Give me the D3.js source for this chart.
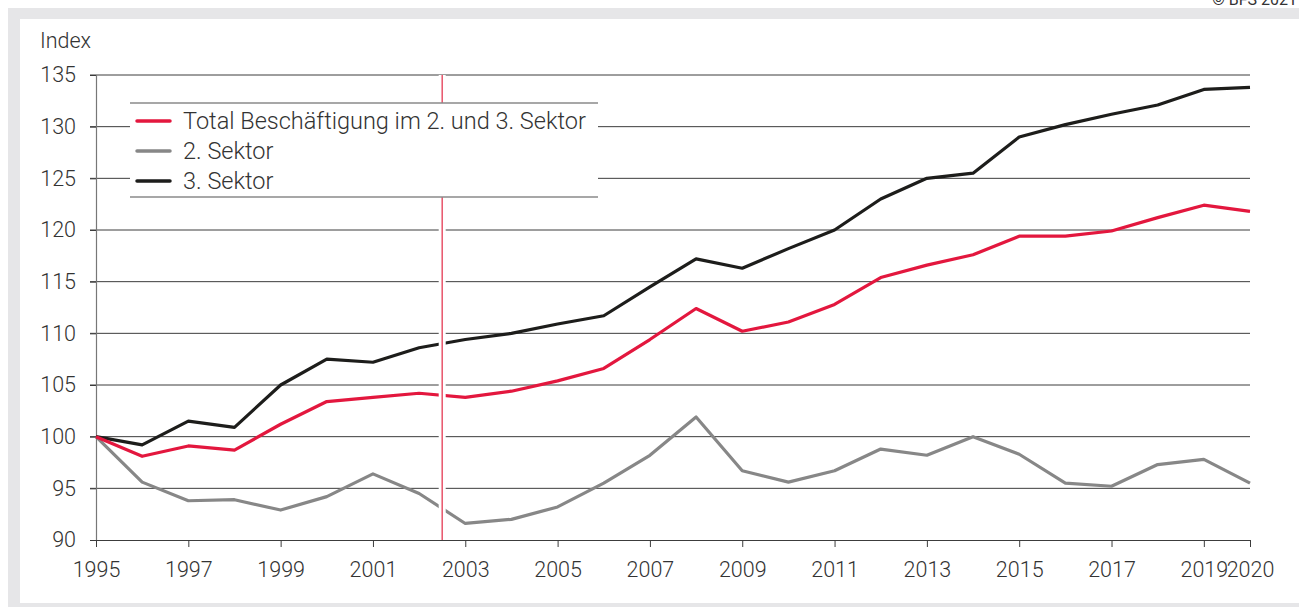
<!DOCTYPE html>
<html>
<head>
<meta charset="utf-8">
<script src="https://cdn.jsdelivr.net/npm/d3@7"></script>
<style>
  html, body { margin: 0; padding: 0; background: #fff; }
  svg { display: block; }
</style>
</head>
<body>
<div id="chart"></div>
<script>
// Data (index, 1995 = 100)
const years = d3.range(1995, 2021)
const total = [100, 98.1, 99.1, 98.7, 101.2, 103.4, 103.8, 104.2, 103.8, 104.4, 105.4, 106.6,
  109.4, 112.4, 110.2, 111.1, 112.8, 115.4, 116.6, 117.6, 119.4, 119.4, 119.9, 121.2, 122.4, 121.8]
const sektor2 = [100, 95.6, 93.8, 93.9, 92.9, 94.2, 96.4, 94.5, 91.6, 92.0, 93.2, 95.5,
  98.2, 101.9, 96.7, 95.6, 96.7, 98.8, 98.2, 100.0, 98.3, 95.5, 95.2, 97.3, 97.8, 95.5]
const sektor3 = [100, 99.2, 101.5, 100.9, 105.0, 107.5, 107.2, 108.6, 109.4, 110.0, 110.9, 111.7,
  114.5, 117.2, 116.3, 118.2, 120.0, 123.0, 125.0, 125.5, 129.0, 130.2, 131.2, 132.1, 133.6, 133.8]
const xTicks = [1995, 1997, 1999, 2001, 2003, 2005, 2007, 2009, 2011, 2013, 2015, 2017, 2019, 2020]
const yTicks = [90, 95, 100, 105, 110, 115, 120, 125, 130, 135]
const markerYear = 2002.5

const series = [
  { name: 'Total Beschäftigung im 2. und 3. Sektor', values: total, color: '#e3173e' },
  { name: '2. Sektor', values: sektor2, color: '#878787' },
  { name: '3. Sektor', values: sektor3, color: '#1d1d1b' },
]

const W = 1299, H = 607
const FONT = 'Roboto, "Liberation Sans", sans-serif'
const TXT = '#333333'

const svg = d3.select('#chart').append('svg')
  .attr('width', W).attr('height', H)

// Frame
svg.append('rect').attr('x', 8).attr('y', 8).attr('width', W).attr('height', H)
  .attr('fill', '#e6e6e8')
svg.append('rect').attr('x', 20).attr('y', 19).attr('width', W).attr('height', 603 - 19)
  .attr('fill', '#ffffff')

// Source note (clipped at top edge, as in the original)
svg.append('text')
  .attr('x', 1297).attr('y', 5)
  .attr('text-anchor', 'end')
  .attr('fill', TXT).attr('font-size', '16px')
  .attr('font-family', FONT)
  .text('© BFS 2021')

const x = d3.scaleLinear().domain([1995, 2020]).range([96, 1250])
const y = d3.scaleLinear().domain([90, 135]).range([540, 75])

// Gridlines
svg.append('g').attr('class', 'grid-y')
  .selectAll('line')
  .data(yTicks.filter(d => d > 90))
  .join('line')
  .attr('x1', 90).attr('x2', x(2020))
  .attr('y1', d => y(d)).attr('y2', d => y(d))
  .attr('stroke', '#3c3c3c').attr('stroke-width', 1)

// Y axis
svg.append('g')
  .attr('class', 'axis-y')
  .attr('transform', `translate(${x(1995)},0)`)
  .call(d3.axisLeft(y).tickValues(yTicks).tickSize(6).tickPadding(14))
  .call(g => {
    g.select('.domain').attr('stroke', '#777').attr('stroke-width', 1.2)
    g.selectAll('.tick line').attr('stroke', '#3c3c3c')
    g.selectAll('.tick text')
      .attr('fill', TXT).attr('font-size', '21.5px')
      .attr('font-family', FONT).attr('font-weight', 300)
  })

// X axis
svg.append('g')
  .attr('class', 'axis-x')
  .attr('transform', `translate(0,${y(90)})`)
  .call(d3.axisBottom(x).tickValues(xTicks).tickFormat(d3.format('d')).tickSize(7).tickPadding(15).tickSizeOuter(0))
  .call(g => {
    g.select('.domain').attr('stroke', '#3c3c3c')
    g.selectAll('.tick line').attr('stroke', '#3c3c3c')
    g.selectAll('.tick text')
      .attr('fill', TXT).attr('font-size', '21.5px')
      .attr('font-family', FONT).attr('font-weight', 300)
  })

// Y axis label
svg.append('text')
  .attr('x', 40).attr('y', 48)
  .attr('fill', TXT).attr('font-size', '21.5px')
  .attr('font-family', FONT).attr('font-weight', 300)
  .text('Index')

// Lines
const lineFn = d3.line()
  .x((d, i) => x(years[i]))
  .y(d => y(d))

svg.append('g').attr('class', 'lines')
  .selectAll('path')
  .data([series[1], series[2], series[0]])
  .join('path')
  .attr('fill', 'none')
  .attr('d', d => lineFn(d.values))
  .attr('stroke', d => d.color)
  .attr('stroke-width', 3.2)
  .attr('stroke-linejoin', 'round')

// Vertical marker with white halo
const mx = x(markerYear)
svg.append('line')
  .attr('x1', mx).attr('x2', mx).attr('y1', y(135)).attr('y2', y(90))
  .attr('stroke', '#fff').attr('stroke-width', 7)
svg.append('line')
  .attr('x1', mx).attr('x2', mx).attr('y1', y(135)).attr('y2', y(90))
  .attr('stroke', '#e8546a').attr('stroke-width', 1.5)

// Legend
const lg = svg.append('g').attr('class', 'legend').attr('transform', 'translate(130,103)')
lg.append('rect').attr('x', 0).attr('y', 0).attr('width', 468).attr('height', 94)
  .attr('fill', '#fff')
lg.append('line').attr('x1', 0).attr('x2', 468).attr('y1', 0).attr('y2', 0)
  .attr('stroke', '#8a8a8a').attr('stroke-width', 1.5)
lg.append('line').attr('x1', 0).attr('x2', 468).attr('y1', 94).attr('y2', 94)
  .attr('stroke', '#8a8a8a').attr('stroke-width', 1.5)

const items = lg.selectAll('.item')
  .data(series)
  .join('g')
  .attr('class', 'item')
  .attr('transform', (d, i) => `translate(0,${18 + i * 30})`)
items.append('line')
  .attr('x1', 7).attr('x2', 40).attr('y1', 0).attr('y2', 0)
  .attr('stroke', d => d.color).attr('stroke-width', 3.5)
  .attr('stroke-linecap', 'round')
items.append('text')
  .attr('x', 53).attr('y', 8)
  .attr('fill', TXT).attr('font-size', '23.5px')
  .attr('font-family', FONT).attr('font-weight', 300)
  .text(d => d.name)
</script>
</body>
</html>
